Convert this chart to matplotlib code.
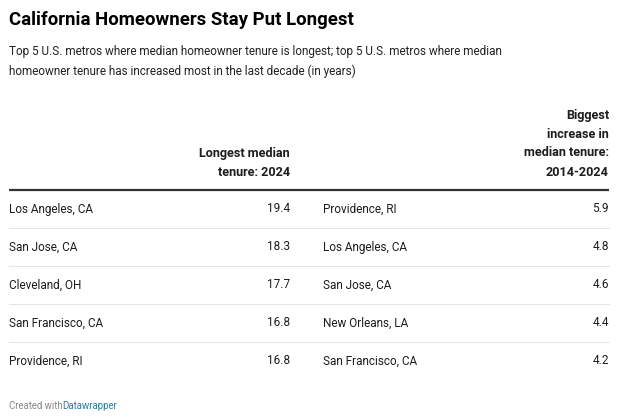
import matplotlib
matplotlib.use("Agg")
import matplotlib.pyplot as plt

plt.rcParams["font.family"] = ["Roboto", "DejaVu Sans"]

metros_2024 = ["Los Angeles, CA", "San Jose, CA", "Cleveland, OH",
               "San Francisco, CA", "Providence, RI"]
tenure_2024 = [19.4, 18.3, 17.7, 16.8, 16.8]
metros_change = ["Providence, RI", "Los Angeles, CA", "San Jose, CA",
                 "New Orleans, LA", "San Francisco, CA"]
tenure_change = [5.9, 4.8, 4.6, 4.4, 4.2]
head_left = ["Longest median", "tenure: 2024"]
head_right = ["Biggest", "increase in", "median tenure:", "2014-2024"]

W, H = 618, 420
fig = plt.figure(figsize=(W / 100, H / 100), dpi=100)
ax = fig.add_axes([0, 0, 1, 1]); ax.axis("off")
ax.set_xlim(0, W); ax.set_ylim(H, 0)

ink = "#1d1d1d"
fs = 8.5
ax.text(9, 20, "California Homeowners Stay Put Longest", fontsize=13.4,
        fontweight="bold", color="#000000", va="center", ha="left")
ax.text(9, 52, "Top 5 U.S. metros where median homeowner tenure is longest; top 5 U.S. metros where median",
        fontsize=fs, color="#222222", va="center")
ax.text(9, 71, "homeowner tenure has increased most in the last decade (in years)",
        fontsize=fs, color="#222222", va="center")

# column headers, stacked from the bottom line up
for j, ln in enumerate(reversed(head_left)):
    ax.text(290, 172 - 19 * j, ln, ha="right", va="center", fontsize=9.1,
            fontweight="bold", color=ink)
for j, ln in enumerate(reversed(head_right)):
    ax.text(609, 172 - 19 * j, ln, ha="right", va="center", fontsize=9.1,
            fontweight="bold", color=ink)
ax.plot([9, 609], [190, 190], color="#333333", lw=1.6, solid_capstyle="butt")

row_h = 38
for i in range(5):
    y = 209 + i * row_h
    ax.text(9, y, metros_2024[i], va="center", fontsize=fs, color=ink)
    ax.text(290, y, f"{tenure_2024[i]:.1f}", va="center", ha="right", fontsize=fs, color=ink)
    ax.text(323, y, metros_change[i], va="center", fontsize=fs, color=ink)
    ax.text(609, y, f"{tenure_change[i]:.1f}", va="center", ha="right", fontsize=fs, color=ink)
    if i < 4:
        ax.plot([9, 609], [y + 19, y + 19], color="#e6e6e6", lw=0.8)

ax.text(9, 406, "Created with", fontsize=6.9, color="#888888", va="center")
ax.text(62, 406, "Datawrapper", fontsize=6.9, color="#1d81a2", va="center")

fig.savefig("out.png", dpi=100)
